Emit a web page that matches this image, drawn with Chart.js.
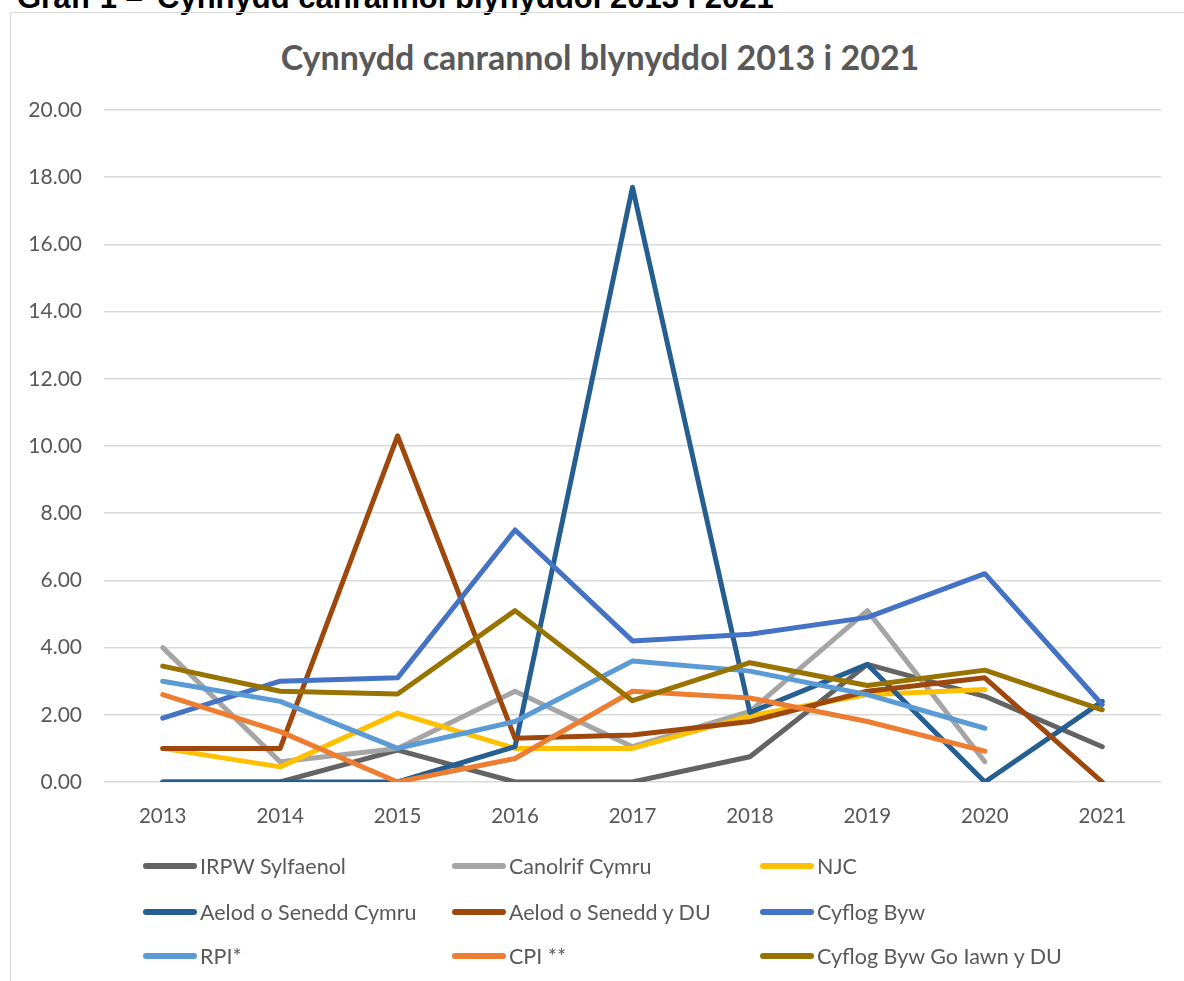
<!DOCTYPE html>
<html>
<head>
<meta charset="utf-8">
<script src="https://cdn.jsdelivr.net/npm/chart.js@4.4.1/dist/chart.umd.min.js"></script>
<style>
  html, body { margin:0; padding:0; background:#fff; }
  body { width:1184px; height:981px; position:relative; overflow:hidden; font-family: Lato, "Open Sans", sans-serif; }
  .hd { position:absolute; top:-18px; font-family:"Liberation Sans", Arial, sans-serif; font-weight:bold; font-size:31px; line-height:31px; color:#000; white-space:pre; }
  #frame { position:absolute; left:10px; top:12px; width:1190px; height:990px; border:1.5px solid #d9d9d9; box-sizing:border-box; }
  #title { position:absolute; left:0; width:1200px; top:36px; text-align:center; font-weight:bold; font-size:34px; line-height:42px; color:#595959; }
  #chartWrap { position:absolute; left:0; top:0; width:1184px; height:981px; }
  .lg { position:absolute; height:26px; display:flex; align-items:center; font-size:21.5px; color:#595959; white-space:nowrap; }
  .lg .sw { width:54px; height:5.5px; border-radius:3px; margin-right:3px; }
</style>
</head>
<body>
<div class="hd" style="left:17px">Graff 1 –</div>
<div class="hd" style="left:157px">Cynnydd canrannol blynyddol 2013 i 2021</div>
<div id="frame"></div>
<div id="title">Cynnydd canrannol blynyddol 2013 i 2021</div>
<div id="chartWrap"><canvas id="c" width="1184" height="981"></canvas></div>
<div id="legend"></div>
<script>
const years = ['2013','2014','2015','2016','2017','2018','2019','2020','2021'];
const seriesNames = ['IRPW Sylfaenol','Canolrif Cymru','NJC','Aelod o Senedd Cymru','Aelod o Senedd y DU','Cyflog Byw','RPI*','CPI **','Cyflog Byw Go Iawn y DU'];
const irpwSylfaenol = [0, 0, 0.95, 0, 0, 0.75, 3.5, 2.55, 1.05];
const canolrifCymru = [4.0, 0.6, 1.0, 2.7, 1.05, 2.1, 5.1, 0.6, null];
const njc = [1.0, 0.45, 2.05, 1.0, 1.0, 1.97, 2.6, 2.75, null];
const aelodSeneddCymru = [0, 0, 0, 1.05, 17.7, 2.07, 3.5, 0, 2.4];
const aelodSeneddDU = [1.0, 1.0, 10.3, 1.3, 1.4, 1.8, 2.7, 3.1, 0];
const cyflogByw = [1.9, 3.0, 3.1, 7.5, 4.2, 4.4, 4.9, 6.2, 2.3];
const rpi = [3.0, 2.4, 1.0, 1.8, 3.6, 3.3, 2.6, 1.6, null];
const cpi = [2.6, 1.5, 0, 0.7, 2.7, 2.5, 1.8, 0.92, null];
const cyflogBywGoIawn = [3.45, 2.7, 2.62, 5.1, 2.42, 3.55, 2.87, 3.33, 2.15];
const yTicks = [0, 2, 4, 6, 8, 10, 12, 14, 16, 18, 20];

const seriesValues = [irpwSylfaenol, canolrifCymru, njc, aelodSeneddCymru, aelodSeneddDU, cyflogByw, rpi, cpi, cyflogBywGoIawn];
const colors = ['#636363','#a5a5a5','#ffc000','#255e91','#9e480e','#4472c4','#5b9bd5','#ed7d31','#997300'];

const datasets = seriesValues.map((vals, i) => ({
  label: seriesNames[i],
  data: vals,
  borderColor: colors[i],
  backgroundColor: colors[i],
  borderWidth: 5,
  pointRadius: 0,
  pointHoverRadius: 0,
  tension: 0,
  fill: false,
  spanGaps: false,
  borderCapStyle: 'round',
  borderJoinStyle: 'round',
  order: seriesValues.length - i
}));

const FONT = 'Lato, "Open Sans", sans-serif';
const chart = new Chart(document.getElementById('c'), {
  type: 'line',
  data: { labels: years, datasets },
  options: {
    responsive: false,
    animation: false,
    devicePixelRatio: 1,
    layout: { padding: { top: 110, right: 23, bottom: 0, left: 0 } },
    plugins: { legend: { display: false }, title: { display: false }, tooltip: { enabled: false } },
    scales: {
      x: {
        offset: true,
        grid: { display: false, drawTicks: false },
        border: { display: false },
        ticks: { font: { family: FONT, size: 20.5 }, color: '#595959', padding: 22, maxRotation: 0 },
        afterFit: s => { s.height = 199; }
      },
      y: {
        min: 0, max: 20,
        afterBuildTicks: s => { s.ticks = yTicks.map(v => ({ value: v })); },
        grid: { color: '#d9d9d9', lineWidth: 1.5, drawTicks: false },
        border: { display: false },
        ticks: { font: { family: FONT, size: 21 }, color: '#595959', padding: 22, callback: v => Number(v).toFixed(2) },
        afterFit: s => { s.width = 104; }
      }
    }
  }
});

// HTML legend built from the chart's datasets, laid out in a 3x3 grid
const colX = [143, 452, 760];
const rowY = [866, 912, 956];
const lg = document.getElementById('legend');
chart.data.datasets.forEach((ds, i) => {
  const d = document.createElement('div');
  d.className = 'lg';
  d.style.left = colX[i % 3] + 'px';
  d.style.top = (rowY[Math.floor(i / 3)] - 13) + 'px';
  const sw = document.createElement('span');
  sw.className = 'sw';
  sw.style.background = ds.borderColor;
  const t = document.createElement('span');
  t.textContent = ds.label;
  d.appendChild(sw); d.appendChild(t);
  lg.appendChild(d);
});
</script>
</body>
</html>
